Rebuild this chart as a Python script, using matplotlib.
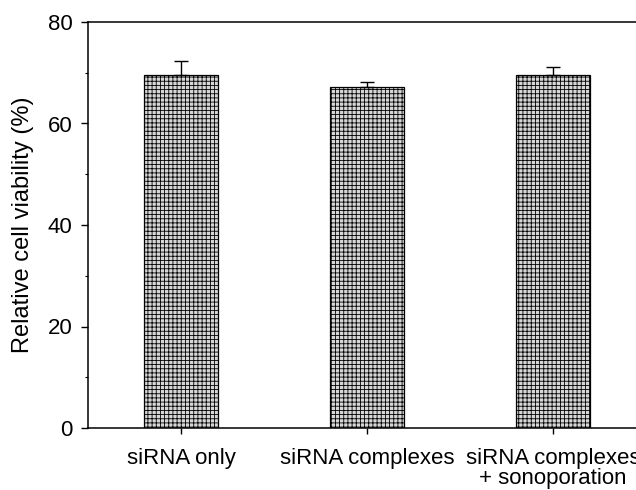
import numpy as np
import matplotlib
matplotlib.use('Agg')
import matplotlib.pyplot as plt
from matplotlib.ticker import MultipleLocator

plt.rcParams['font.family'] = ['Liberation Sans', 'DejaVu Sans']
plt.rcParams['hatch.color'] = '#ababab'
plt.rcParams['hatch.linewidth'] = 0.6

# data
groups = ['siRNA only', 'siRNA complexes', 'siRNA complexes\n+ sonoporation']
viability = [69.55, 67.2, 69.55]
errors = [2.8, 1.0, 1.6]

fig = plt.figure(figsize=(6.36, 4.90), dpi=100)
# axes box runs slightly past the right edge of the figure (cropped like the original)
ax = fig.add_axes([88/636, 62/490, (646-88)/636, (428-22)/490])

x = np.arange(len(groups))
ax.bar(x, viability, width=0.40, color='#d6d6d6', edgecolor='black',
       linewidth=0.9, hatch='++++', zorder=2)
ax.errorbar(x, viability, yerr=[np.zeros(len(errors)), errors], fmt='none',
            ecolor='black', elinewidth=1, capsize=5, capthick=1, zorder=3)

ax.set_xlim(-0.5, 2.5)
ax.set_ylim(0, 80)
ax.yaxis.set_major_locator(MultipleLocator(20))
ax.yaxis.set_minor_locator(MultipleLocator(10))
ax.set_xticks(x)
ax.set_xticklabels(groups, fontsize=16, linespacing=0.95)
ax.tick_params(axis='y', labelsize=16, direction='out', length=5, width=1, pad=6)
ax.tick_params(axis='y', which='minor', direction='out', length=2.5, width=0.8)
ax.tick_params(axis='x', direction='out', length=4.5, width=1, pad=10)
ax.set_ylabel('Relative cell viability (%)', fontsize=17, labelpad=10)

ax.spines['right'].set_visible(False)
for s in ['left', 'top', 'bottom']:
    ax.spines[s].set_linewidth(1.1)

fig.savefig('out.png', dpi=100)
